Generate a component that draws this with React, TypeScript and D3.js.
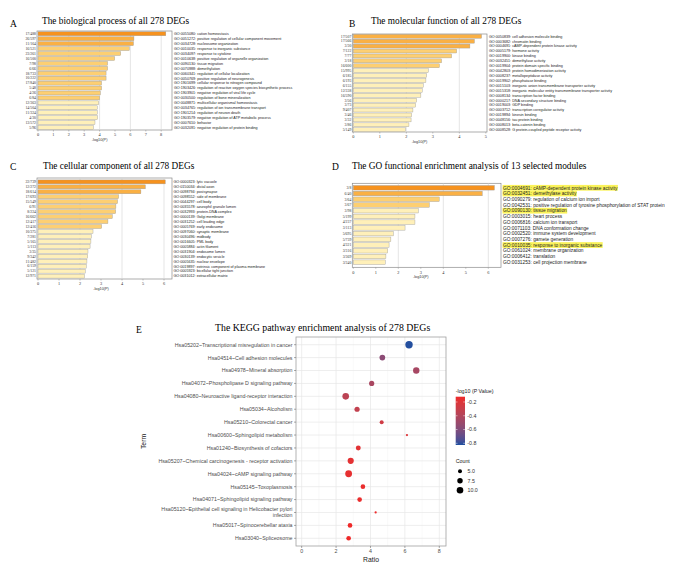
import React, { useEffect, useRef } from "react";
import * as d3 from "d3";

const W = 685;
const H = 584;
const SERIF = "Liberation Serif, Times New Roman, serif";
const SANS = "Liberation Sans, Arial, sans-serif";

// ---- A: biological process ----
const bpTerms = [
  "GO:0055080: cation homeostasis",
  "GO:0051272: positive regulation of cellular component movement",
  "GO:0034728: nucleosome organization",
  "GO:0010035: response to inorganic substance",
  "GO:0034097: response to cytokine",
  "GO:0010638: positive regulation of organelle organization",
  "GO:0090130: tissue migration",
  "GO:0070988: demethylation",
  "GO:0060341: regulation of cellular localization",
  "GO:0050769: positive regulation of neurogenesis",
  "GO:1901699: cellular response to nitrogen compound",
  "GO:1903426: regulation of reactive oxygen species biosynthetic process",
  "GO:1903901: negative regulation of viral life cycle",
  "GO:0030500: regulation of bone mineralization",
  "GO:0048871: multicellular organismal homeostasis",
  "GO:0034765: regulation of ion transmembrane transport",
  "GO:1901214: regulation of neuron death",
  "GO:1903579: negative regulation of ATP metabolic process",
  "GO:0007610: behavior",
  "GO:0032091: negative regulation of protein binding",
];
const bpRatios = ["17/488", "26/597", "11/164", "16/521", "23/261", "16/500", "7/98", "6/66", "18/733", "10/222",
  "17/840", "5/48", "4/26", "6/84", "12/363", "14/504", "11/324", "4/30", "13/572", "5/96"];
const bpValues = [8.3, 6.23, 6.2, 5.93, 5.37, 4.98, 4.52, 4.52, 4.42, 4.42, 4.13, 4.13, 4.05, 4.0, 3.94, 3.85, 3.85, 3.87, 3.7, 3.6];

// ---- B: molecular function ----
const mfTerms = [
  "GO:0050839: cell adhesion molecule binding",
  "GO:0003682: chromatin binding",
  "GO:0004691: cAMP-dependent protein kinase activity",
  "GO:0005179: hormone activity",
  "GO:0019900: kinase binding",
  "GO:0032451: demethylase activity",
  "GO:0019904: protein domain specific binding",
  "GO:0042803: protein homodimerization activity",
  "GO:0008237: metallopeptidase activity",
  "GO:0019902: phosphatase binding",
  "GO:0015103: inorganic anion transmembrane transporter activity",
  "GO:0015318: inorganic molecular entity transmembrane transporter activity",
  "GO:0008134: transcription factor binding",
  "GO:0000217: DNA secondary structure binding",
  "GO:0019003: GDP binding",
  "GO:0003712: transcription coregulator activity",
  "GO:0019894: kinesin binding",
  "GO:0048156: tau protein binding",
  "GO:0008013: beta-catenin binding",
  "GO:0008528: G protein-coupled peptide receptor activity",
];
const mfRatios = ["17/507", "17/566", "3/30", "7/122", "7/77", "3/18", "16/600", "15/995", "6/185", "6/193",
  "6/155", "12/338", "16/590", "3/56", "3/73", "9/407", "3/46", "3/32", "3/86", "5/149"];
const mfValues = [4.84, 4.57, 4.4, 3.9, 3.71, 3.33, 3.25, 2.83, 2.77, 2.74, 2.64, 2.6, 2.55, 2.39, 2.35, 2.25, 2.2, 2.18, 2.1, 1.97];

// ---- C: cellular component ----
const ccTerms = [
  "GO:0000323: lytic vacuole",
  "GO:0150034: distal axon",
  "GO:0098794: postsynapse",
  "GO:0098552: side of membrane",
  "GO:0044297: cell body",
  "GO:0035578: azurophil granule lumen",
  "GO:0032993: protein-DNA complex",
  "GO:0000139: Golgi membrane",
  "GO:0031252: cell leading edge",
  "GO:0005769: early endosome",
  "GO:0097060: synaptic membrane",
  "GO:0030496: midbody",
  "GO:0016605: PML body",
  "GO:0005884: actin filament",
  "GO:0031904: endosome lumen",
  "GO:0030139: endocytic vesicle",
  "GO:0005635: nuclear envelope",
  "GO:0019897: extrinsic component of plasma membrane",
  "GO:0005923: bicellular tight junction",
  "GO:0031012: extracellular matrix",
];
const ccRatios = ["22/739", "12/272", "18/614", "17/693", "15/549", "6/91", "8/224", "16/662", "12/417", "12/416",
  "10/375", "7/281", "5/165", "5/113", "3/35", "9/342", "11/482", "6/159", "5/121", "12/971"];
const ccValues = [6.06, 5.11, 4.9, 3.84, 3.79, 3.71, 3.7, 3.54, 3.33, 3.03, 2.62, 2.54, 2.52, 2.48, 2.38, 2.37, 2.33, 2.3, 2.25, 2.21];

// ---- D: selected modules ----
const modTerms = [
  "GO:0004691: cAMP-dependent protein kinase activity",
  "GO:0032451: demethylase activity",
  "GO:0090279: regulation of calcium ion import",
  "GO:0042531: positive regulation of tyrosine phosphorylation of STAT protein",
  "GO:0090130: tissue migration",
  "GO:0003015: heart process",
  "GO:0006816: calcium ion transport",
  "GO:0071103: DNA conformation change",
  "GO:0002520: immune system development",
  "GO:0007276: gamete generation",
  "GO:0010035: response to inorganic substance",
  "GO:0061024: membrane organization",
  "GO:0006412: translation",
  "GO:0031253: cell projection membrane",
];
const modRatios = ["3/8", "6/40", "3/64", "3/67", "3/98", "5/199", "4/237", "3/113", "5/695", "5/739", "4/321", "3/316", "3/369", "3/340"];
const modValues = [6.27, 5.73, 3.82, 3.38, 2.89, 2.74, 2.74, 2.3, 1.78, 1.67, 1.59, 1.53, 1.45, 1.42];
const modHighlighted = ["GO:0004691", "GO:0032451", "GO:0090130", "GO:0010035"];

// ---- E: KEGG ----
const keggTerms = [
  "Hsa05202~Transcriptional misregulation in cancer",
  "Hsa04514~Cell adhesion molecules",
  "Hsa04978~Mineral absorption",
  "Hsa04072~Phospholipase D signaling pathway",
  "Hsa04080~Neuroactive ligand-receptor interaction",
  "Hsa05034~Alcoholism",
  "Hsa05210~Colorectal cancer",
  "Hsa00600~Sphingolipid metabolism",
  "Hsa01240~Biosynthesis of cofactors",
  "Hsa05207~Chemical carcinogenesis - receptor activation",
  "Hsa04024~cAMP signaling pathway",
  "Hsa05145~Toxoplasmosis",
  "Hsa04071~Sphingolipid signaling pathway",
  "Hsa05120~Epithelial cell signaling in Helicobacter pylori infection",
  "Hsa05017~Spinocerebellar ataxia",
  "Hsa03040~Spliceosome",
];
const keggRatio = [6.24, 4.69, 6.66, 4.07, 2.56, 3.22, 4.65, 6.12, 3.29, 2.85, 2.73, 3.56, 3.37, 4.3, 2.81, 2.73];
const keggCount = [12, 8, 9.5, 7, 10, 7, 5, 3, 6.5, 9, 10.5, 6, 6, 3, 6, 6];
const keggLogP = [-0.82, -0.56, -0.45, -0.44, -0.36, -0.33, -0.27, -0.2, -0.18, -0.17, -0.16, -0.14, -0.14, -0.13, -0.12, -0.12];
const colorTicks = [-0.2, -0.4, -0.6, -0.8];
const countTicks = [5, 7.5, 10];

const barColors = ["#fff0b9", "#fdcf72", "#fab044", "#f6921e"];

const panels = [
  { letter: "A", lx: 10, ly: 26.5, title: "The biological process of all 278 DEGs", tx: 42, ty: 24,
    terms: bpTerms, ratios: bpRatios, values: bpValues,
    x0: 38, unit: 15.4, tickMax: 8, boxRight: 172, boxTop: 31, boxBottom: 130, rowTop: 31.8, rowBottom: 129.5,
    breaks: [3.95, 6, 8], legendX: 174, legendSize: 3.7 },
  { letter: "B", lx: 349, ly: 26.5, title: "The molecular function of all 278 DEGs", tx: 371, ty: 24,
    terms: mfTerms, ratios: mfRatios, values: mfValues,
    x0: 353.3, unit: 26.5, tickMax: 5, boxRight: 487, boxTop: 34, boxBottom: 132, rowTop: 34.3, rowBottom: 131.7,
    breaks: [3.0, 4.0, 9], legendX: 489, legendSize: 3.7 },
  { letter: "C", lx: 10, ly: 170, title: "The cellular component of all 278 DEGs", tx: 43, ty: 169,
    terms: ccTerms, ratios: ccRatios, values: ccValues,
    x0: 38, unit: 21, tickMax: 6, boxRight: 172, boxTop: 178, boxBottom: 279, rowTop: 179.9, rowBottom: 278.1,
    breaks: [2.8, 4.5, 6], legendX: 173.5, legendSize: 3.7 },
  { letter: "D", lx: 332, ly: 170, title: "The GO functional enrichment analysis of 13 selected modules", tx: 352, ty: 169,
    terms: modTerms, ratios: modRatios, values: modValues, highlight: modHighlighted,
    x0: 353.3, unit: 22.5, tickMax: 6, boxRight: 501, boxTop: 183.3, boxBottom: 267.3, rowTop: 185.5, rowBottom: 264.5,
    breaks: [3.0, 5.0, 6.0], legendX: 503, legendSize: 4.8 },
];

function drawBars(svg: any, p: any) {
  const g = svg.append("g");
  const x = d3.scaleLinear().domain([0, p.tickMax]).range([p.x0, p.x0 + p.tickMax * p.unit]);
  const y = d3.scaleBand<number>().domain(d3.range(p.values.length)).range([p.rowTop, p.rowBottom]).paddingInner(0.2);
  const color = d3.scaleThreshold<number, string>().domain(p.breaks).range(barColors);

  g.append("text").attr("x", p.lx).attr("y", p.ly).attr("font-family", SERIF).attr("font-size", 9.5).text(p.letter);
  g.append("text").attr("x", p.tx).attr("y", p.ty).attr("font-family", SERIF).attr("font-size", 9.3).text(p.title);

  g.append("rect")
    .attr("x", p.x0 - 1).attr("y", p.boxTop)
    .attr("width", p.boxRight - p.x0 + 1).attr("height", p.boxBottom - p.boxTop)
    .attr("fill", "white").attr("stroke", "#8a8a8a").attr("stroke-width", 0.7);

  // grid lines at even ticks
  const ticks = d3.range(0, p.tickMax + 1);
  g.selectAll(".grid").data(ticks.filter((t) => t > 0 && t % 2 === 0)).enter().append("line")
    .attr("x1", (d) => x(d)).attr("x2", (d) => x(d))
    .attr("y1", p.boxTop).attr("y2", p.boxBottom)
    .attr("stroke", "#d4d4d4").attr("stroke-width", 0.6);

  g.selectAll(".bar").data(p.values).enter().append("rect")
    .attr("x", x(0)).attr("y", (d, i) => y(i))
    .attr("width", (d) => x(d) - x(0)).attr("height", y.bandwidth())
    .attr("fill", (d) => color(d)).attr("stroke", "#9a9a9a").attr("stroke-width", 0.4);

  // x axis
  g.selectAll(".tick").data(ticks).enter().append("line")
    .attr("x1", (d) => x(d)).attr("x2", (d) => x(d))
    .attr("y1", p.boxBottom).attr("y2", p.boxBottom + 1.5)
    .attr("stroke", "#8a8a8a").attr("stroke-width", 0.5);
  g.selectAll(".tlab").data(ticks).enter().append("text")
    .attr("x", (d) => x(d)).attr("y", p.boxBottom + 6.2)
    .attr("text-anchor", "middle").attr("font-family", SERIF).attr("font-size", 4.3).attr("fill", "#333")
    .text((d) => d);
  g.append("text").attr("x", x(p.tickMax / 2)).attr("y", p.boxBottom + 10.8)
    .attr("text-anchor", "middle").attr("font-family", SANS).attr("font-size", 3.8).attr("fill", "#333")
    .text("-log10(P)");

  // gene ratio labels
  g.selectAll(".rlab").data(p.ratios).enter().append("text")
    .attr("x", p.x0 - 2).attr("y", (d, i) => y(i) + y.bandwidth() / 2 + 1.3)
    .attr("text-anchor", "end").attr("font-family", SERIF).attr("font-size", 3.8).attr("fill", "#333")
    .text((d) => d);

  // term legend
  const hl = p.highlight || [];
  p.terms.forEach((t: string, i: number) => {
    const cy = y(i) + y.bandwidth() / 2;
    const bg = g.append("rect");
    const txt = g.append("text")
      .attr("x", p.legendX).attr("y", cy + p.legendSize * 0.36)
      .attr("font-family", SANS).attr("font-size", p.legendSize).attr("fill", "#222")
      .text(t);
    if (hl.includes(t.slice(0, 10))) {
      const len = (txt.node() as SVGTextElement).getComputedTextLength();
      bg.attr("x", p.legendX - 0.5).attr("y", cy - p.legendSize * 0.6)
        .attr("width", len + 1).attr("height", p.legendSize * 1.2).attr("fill", "#fbf35a");
    } else {
      bg.remove();
    }
  });
}

function drawKegg(svg: any) {
  const g = svg.append("g");
  const left = 296, right = 446, top = 337, bottom = 546;
  const x = d3.scaleLinear().domain([-0.33, 8.39]).range([left, right]);
  const y = d3.scalePoint<string>().domain(keggTerms).range([344.7, 538.3]);
  const color = d3.scaleLinear<string>().domain([-0.825, -0.123]).range(["#1f4fa0", "#ee2a2a"])
    .interpolate(d3.interpolateLab);
  const area = d3.scaleLinear().domain([5, 10]).range([4, 10.9]);
  const r = (c: number) => Math.sqrt(Math.max(0.6, area(c)));

  g.append("text").attr("x", 136).attr("y", 333).attr("font-family", SERIF).attr("font-size", 9.5).text("E");
  g.append("text").attr("x", 215).attr("y", 331).attr("font-family", SERIF).attr("font-size", 9.8)
    .text("The KEGG pathway enrichment analysis of 278 DEGs");

  g.append("rect").attr("x", left).attr("y", top).attr("width", right - left).attr("height", bottom - top)
    .attr("fill", "white");
  // minor grid
  g.selectAll(".minor").data([1, 3, 5, 7]).enter().append("line")
    .attr("x1", (d) => x(d)).attr("x2", (d) => x(d)).attr("y1", top).attr("y2", bottom)
    .attr("stroke", "#f3f3f3").attr("stroke-width", 0.5);
  g.selectAll(".majx").data([0, 2, 4, 6, 8]).enter().append("line")
    .attr("x1", (d) => x(d)).attr("x2", (d) => x(d)).attr("y1", top).attr("y2", bottom)
    .attr("stroke", "#e6e6e6").attr("stroke-width", 0.7);
  g.selectAll(".majy").data(keggTerms).enter().append("line")
    .attr("x1", left).attr("x2", right).attr("y1", (d) => y(d)).attr("y2", (d) => y(d))
    .attr("stroke", "#e6e6e6").attr("stroke-width", 0.7);
  g.append("rect").attr("x", left).attr("y", top).attr("width", right - left).attr("height", bottom - top)
    .attr("fill", "none").attr("stroke", "#a0a0a0").attr("stroke-width", 0.8);

  g.selectAll(".pt").data(keggTerms).enter().append("circle")
    .attr("cx", (d, i) => x(keggRatio[i])).attr("cy", (d) => y(d))
    .attr("r", (d, i) => r(keggCount[i]))
    .attr("fill", (d, i) => color(keggLogP[i]));

  // y axis
  g.selectAll(".ytick").data(keggTerms).enter().append("line")
    .attr("x1", left - 2).attr("x2", left).attr("y1", (d) => y(d)).attr("y2", (d) => y(d))
    .attr("stroke", "#555").attr("stroke-width", 0.5);
  keggTerms.forEach((t) => {
    const cy = y(t) as number;
    const lines = t.length > 55 ? [t.slice(0, t.lastIndexOf(" ")), t.slice(t.lastIndexOf(" ") + 1)] : [t];
    lines.forEach((ln, k) => {
      g.append("text").attr("x", 292.5)
        .attr("y", cy + 1.9 + (k - (lines.length - 1) / 2) * 6)
        .attr("text-anchor", "end").attr("font-family", SANS).attr("font-size", 5.3).attr("fill", "#4d4d4d")
        .text(ln);
    });
  });
  g.append("text").attr("transform", "translate(146,441.5) rotate(-90)")
    .attr("text-anchor", "middle").attr("font-family", SANS).attr("font-size", 6.8).attr("fill", "#222")
    .text("Term");

  // x axis
  g.selectAll(".xtick").data([0, 2, 4, 6, 8]).enter().append("line")
    .attr("x1", (d) => x(d)).attr("x2", (d) => x(d)).attr("y1", bottom).attr("y2", bottom + 2)
    .attr("stroke", "#555").attr("stroke-width", 0.5);
  g.selectAll(".xlab").data([0, 2, 4, 6, 8]).enter().append("text")
    .attr("x", (d) => x(d)).attr("y", bottom + 7)
    .attr("text-anchor", "middle").attr("font-family", SANS).attr("font-size", 5.3).attr("fill", "#4d4d4d")
    .text((d) => d);
  g.append("text").attr("x", (left + right) / 2).attr("y", 562)
    .attr("text-anchor", "middle").attr("font-family", SANS).attr("font-size", 6.8).attr("fill", "#222")
    .text("Ratio");

  // colour legend
  const cbX = 455.7, cbW = 9.3, cbTop = 396.7, cbBottom = 445;
  const cy = d3.scaleLinear().domain([-0.825, -0.123]).range([cbBottom, cbTop]);
  const grad = svg.append("defs").append("linearGradient").attr("id", "cbar")
    .attr("x1", 0).attr("x2", 0).attr("y1", 1).attr("y2", 0);
  d3.range(0, 1.0001, 0.1).forEach((f) => {
    grad.append("stop").attr("offset", f).attr("stop-color", color(-0.825 + f * 0.702));
  });
  g.append("text").attr("x", cbX).attr("y", 392.5).attr("font-family", SANS).attr("font-size", 5.3).attr("fill", "#222")
    .text("-log10 (P Value)");
  g.append("rect").attr("x", cbX).attr("y", cbTop).attr("width", cbW).attr("height", cbBottom - cbTop)
    .attr("fill", "url(#cbar)");
  colorTicks.forEach((v) => {
    g.append("line").attr("x1", cbX).attr("x2", cbX + 1.8).attr("y1", cy(v)).attr("y2", cy(v))
      .attr("stroke", "white").attr("stroke-width", 0.5);
    g.append("line").attr("x1", cbX + cbW - 1.8).attr("x2", cbX + cbW).attr("y1", cy(v)).attr("y2", cy(v))
      .attr("stroke", "white").attr("stroke-width", 0.5);
    g.append("text").attr("x", cbX + cbW + 2.3).attr("y", cy(v) + 1.9)
      .attr("font-family", SANS).attr("font-size", 5.3).attr("fill", "#333").text(v.toFixed(1));
  });

  // size legend
  g.append("text").attr("x", cbX).attr("y", 462.5).attr("font-family", SANS).attr("font-size", 5.3).attr("fill", "#222")
    .text("Count");
  const sy = d3.scalePoint<number>().domain(countTicks).range([471.3, 490.3]);
  countTicks.forEach((c) => {
    g.append("circle").attr("cx", 460).attr("cy", sy(c)).attr("r", r(c)).attr("fill", "black");
    g.append("text").attr("x", 467.5).attr("y", (sy(c) as number) + 1.9)
      .attr("font-family", SANS).attr("font-size", 5.3).attr("fill", "#333").text(c.toFixed(1));
  });
}

export default function App() {
  const ref = useRef<SVGSVGElement>(null);

  useEffect(() => {
    const svg = d3.select(ref.current);
    svg.selectAll("*").remove();
    svg.append("rect").attr("width", W).attr("height", H).attr("fill", "white");
    panels.forEach((p) => drawBars(svg, p));
    drawKegg(svg);
  }, []);

  return (
    <svg
      ref={ref}
      width={W}
      height={H}
      style={{ position: "absolute", left: 0, top: 0, fontFamily: SANS }}
    />
  );
}
